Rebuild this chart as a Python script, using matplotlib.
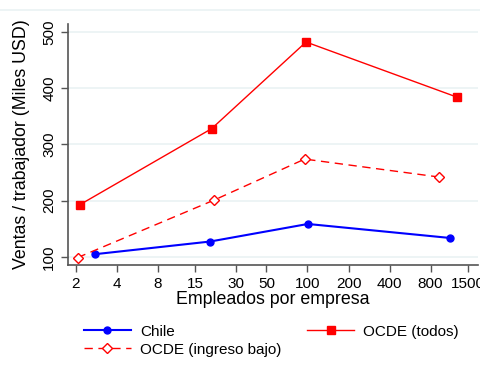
import matplotlib
matplotlib.use("Agg")
import matplotlib.pyplot as plt
from matplotlib.lines import Line2D

plt.rcParams['font.family'] = ['Liberation Sans', 'DejaVu Sans']

# Chile
chile_x = [2.76, 19.3, 100.6, 1114]
chile_y = [105, 127.5, 158.7, 133.8]

# OCDE (todos)
todos_x = [2.14, 19.8, 97.6, 1252]
todos_y = [193, 328, 482, 384]

# OCDE (ingreso bajo)
bajo_x = [2.06, 20.5, 95.5, 930]
bajo_y = [99, 200.8, 274, 242]

xticks = [2, 4, 8, 15, 30, 50, 100, 200, 400, 800, 1500]
yticks = [100, 200, 300, 400, 500]

fig = plt.figure(figsize=(4.8, 3.73), dpi=100)
ax = fig.add_axes([68/480, 1-265/373, (478-68)/480, (265-24)/373])

ax.plot(chile_x, chile_y, '-o', color='#0000ff', lw=1.5, ms=5, label='Chile')
ax.plot(bajo_x, bajo_y, '--D', color='#ff0000', lw=1.0, ms=5.3, mfc='white',
        mew=1.0, dashes=(6, 4), label='OCDE (ingreso bajo)')
ax.plot(todos_x, todos_y, '-s', color='#ff0000', lw=1.0, ms=5.4, label='OCDE (todos)')

ax.set_xscale('log')
ax.set_xlim(1.75, 1783)
ax.set_ylim(85.8, 514)
ax.set_xticks(xticks)
ax.set_xticklabels([str(t) for t in xticks])
ax.xaxis.set_minor_locator(matplotlib.ticker.NullLocator())
ax.set_yticks(yticks)
ax.set_yticklabels([str(t) for t in yticks], rotation=90, va='center')

ax.grid(axis='y', color='#eaf2f3', lw=1.2)
ax.set_axisbelow(True)
for s in ['top', 'right']:
    ax.spines[s].set_visible(False)
for s in ['left', 'bottom']:
    ax.spines[s].set_color('#555555')
    ax.spines[s].set_linewidth(1.2)
ax.tick_params(colors='#555555', labelcolor='black', labelsize=11, length=5, width=1)

ax.set_xlabel('Empleados por empresa', fontsize=12.8, labelpad=0)
ax.set_ylabel('Ventas / trabajador (Miles USD)', fontsize=12.8, labelpad=9)

# faint top line of the graph region
fig.add_artist(Line2D([0, 1], [1-10/373, 1-10/373], transform=fig.transFigure,
                      color='#eaf2f3', lw=1.2))

h, l = ax.get_legend_handles_labels()
fig.legend(h, l, ncol=2, loc='upper left', bbox_to_anchor=(70/480, 1-311/373),
           frameon=False, fontsize=11, handlelength=3.07, columnspacing=1.7,
           labelspacing=0.25, handletextpad=0.6)

fig.savefig('out.png', dpi=100)
